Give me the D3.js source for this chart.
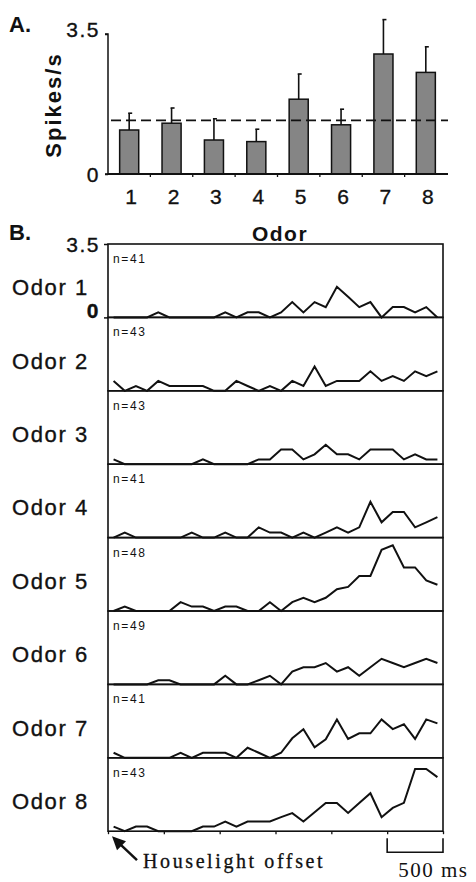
<!DOCTYPE html>
<html><head><meta charset="utf-8">
<script src="https://cdn.jsdelivr.net/npm/d3@7"></script>
<style>
html,body{margin:0;padding:0;background:#fff;}
svg{display:block;}
text{font-family:"Liberation Sans",Arial,sans-serif;fill:#111;}
.serif{font-family:"Liberation Serif","Times New Roman",serif;}
.heavy{stroke:#111;stroke-width:0.35px;}
</style></head>
<body>
<svg id="chart" width="476" height="882"></svg>
<script>
// ---------- data ----------
const odors = ["1","2","3","4","5","6","7","8"];
const meanRate = [1.10, 1.27, 0.85, 0.81, 1.87, 1.23, 3.00, 2.54];
const semRate  = [0.42, 0.38, 0.53, 0.31, 0.63, 0.39, 0.86, 0.64];
const baselineRate = 1.34;
const yTicksA = [0, 3.5];

const panelLabels = ["Odor 1","Odor 2","Odor 3","Odor 4","Odor 5","Odor 6","Odor 7","Odor 8"];
const trialCounts = [41, 43, 43, 41, 48, 49, 41, 43];
const timeBins = [50,150,250,350,450,550,650,750,850,950,1050,1150,1250,1350,1450,
                  1550,1650,1750,1850,1950,2050,2150,2250,2350,2450,2550,2650,2750,2850,2950];
const timeTicks = [0,500,1000,1500,2000,2500,3000];
const yTicksB = [0, 3.5];
const psth1 = [0,0,0,0,0.24,0,0,0,0,0,0.24,0,0.24,0.24,0,0.24,0.73,0.24,0.73,0.49,1.46,0.98,0.49,0.73,0,0.49,0.49,0.24,0.49,0];
const psth2 = [0.47,0,0.23,0,0.47,0.23,0.23,0.23,0.23,0,0,0.47,0.23,0,0.23,0,0.47,0.23,1.16,0.23,0.47,0.47,0.47,0.93,0.47,0.70,0.47,0.93,0.70,0.93];
const psth3 = [0.23,0,0,0,0,0,0,0,0.23,0,0,0,0,0.23,0.23,0.70,0.70,0.23,0.47,0.93,0.47,0.47,0.23,0.70,0.70,0.70,0.23,0.47,0.23,0.23];
const psth4 = [0,0.24,0,0,0,0,0,0.24,0,0,0.24,0,0,0.49,0.24,0.24,0,0.24,0,0.24,0.49,0.24,0.49,1.71,0.73,1.22,1.22,0.49,0.73,0.98];
const psth5 = [0,0.21,0,0,0,0,0.42,0.21,0.21,0,0.21,0.21,0,0,0.42,0,0.42,0.63,0.42,0.63,1.04,1.15,1.67,1.67,2.92,3.13,2.08,2.08,1.46,1.25];
const psth6 = [0,0,0,0,0.20,0.20,0,0,0,0,0.41,0,0,0.20,0.41,0,0.61,0.82,0.82,1.02,0.61,0.82,0.41,0.82,1.22,1.02,0.82,1.02,1.22,1.02];
const psth7 = [0.24,0,0,0,0,0,0.24,0,0.24,0.24,0.24,0,0.48,0.24,0,0.24,0.93,1.36,0.50,0.88,1.83,0.90,1.17,1.17,1.83,1.37,1.60,0.90,1.83,1.64];
const psth8 = [0.22,0,0.22,0.22,0,0,0,0,0.22,0.22,0.46,0.22,0.46,0.46,0.46,0.67,0.86,0.46,0.90,1.35,1.35,0.87,1.35,1.81,0.67,1.11,1.35,2.97,2.97,2.58];
const psths = [psth1, psth2, psth3, psth4, psth5, psth6, psth7, psth8];
const scaleBarMs = 500;

// ---------- drawing ----------
const svg = d3.select("#chart");
svg.append("rect").attr("width",476).attr("height",882).attr("fill","#fff");

// ===== Panel A =====
const A = {left:108, right:447, top:34, bottom:174};
const xA = d3.scaleBand().domain(odors).range([A.left, A.right]).paddingInner(0.55).paddingOuter(0.275);
const yA = d3.scaleLinear().domain([0, 3.5]).range([A.bottom, A.top]);
const gA = svg.append("g");

// error bars
odors.forEach((o,i)=>{
  const cx = xA(o) + xA.bandwidth()/2;
  gA.append("line").attr("x1",cx).attr("x2",cx)
    .attr("y1",yA(meanRate[i])).attr("y2",yA(meanRate[i]+semRate[i]))
    .attr("stroke","#111").attr("stroke-width",1.6);
  gA.append("line").attr("x1",cx-1).attr("x2",cx+3)
    .attr("y1",yA(meanRate[i]+semRate[i])).attr("y2",yA(meanRate[i]+semRate[i]))
    .attr("stroke","#111").attr("stroke-width",1.6);
});
// bars
gA.selectAll("rect.bar").data(odors).enter().append("rect")
  .attr("x",d=>xA(d)).attr("width",xA.bandwidth())
  .attr("y",(d,i)=>yA(meanRate[i])).attr("height",(d,i)=>A.bottom-yA(meanRate[i]))
  .attr("fill","#858585").attr("stroke","#111").attr("stroke-width",1.5);
// dashed baseline
gA.append("line").attr("x1",A.left+3).attr("x2",A.right+1)
  .attr("y1",yA(baselineRate)).attr("y2",yA(baselineRate))
  .attr("stroke","#111").attr("stroke-width",1.8).attr("stroke-dasharray","10,5");

// y axis
const yAxisA = d3.axisLeft(yA).tickValues(yTicksA).tickSize(3).tickFormat(d3.format(""));
const gyA = gA.append("g").attr("transform",`translate(${A.left},0)`).call(yAxisA);
gyA.select(".domain").attr("stroke","#111").attr("stroke-width",1.5).attr("d",`M-3,${A.top}H0V${A.bottom}H-3`);
gyA.selectAll(".tick line").attr("stroke","#111").attr("stroke-width",1.5);
gyA.selectAll(".tick text").attr("font-size",21).attr("fill","#111").attr("class","heavy")
  .attr("font-family","Liberation Sans, Arial, sans-serif").attr("x",-8)
  .attr("dy",(d)=> d===0 ? "0.35em" : "0.1em").attr("letter-spacing",1.5);

// x axis
const gxA = gA.append("g").attr("transform",`translate(0,${A.bottom})`);
gxA.append("line").attr("x1",A.left).attr("x2",A.right+1).attr("y1",0).attr("y2",0)
  .attr("stroke","#111").attr("stroke-width",1.8);
odors.forEach((o,i)=>{
  const bx = xA(o) - xA.step()*xA.paddingInner()/2;
  if(i>0) gxA.append("line").attr("x1",bx).attr("x2",bx).attr("y1",0).attr("y2",3).attr("stroke","#111").attr("stroke-width",1.3);
});
gxA.selectAll("text.xl").data(odors).enter().append("text").attr("class","heavy")
  .attr("x",d=>xA(d)+xA.bandwidth()/2+2).attr("y",30)
  .attr("text-anchor","middle").attr("font-size",21).text(d=>d);

svg.append("text").attr("x",280).attr("y",241).attr("text-anchor","middle")
  .attr("font-size",21).attr("font-weight","bold").attr("letter-spacing",1.5).text("Odor");
svg.append("text").attr("transform","translate(61,105) rotate(-90)").attr("text-anchor","middle")
  .attr("font-size",22).attr("font-weight","bold").attr("letter-spacing",2).text("Spikes/s");
svg.append("text").attr("x",9).attr("y",32).attr("font-size",22).attr("font-weight","bold").text("A.");

// ===== Panel B =====
const B = {left:108, right:443, top:244, panelH:73.4};
const xB = d3.scaleLinear().domain([0,3000]).range([B.left, B.right]);
svg.append("text").attr("x",9).attr("y",240).attr("font-size",22).attr("font-weight","bold").text("B.");

psths.forEach((vals,k)=>{
  const top = B.top + k*B.panelH, bot = top + B.panelH;
  const yB = d3.scaleLinear().domain([0,3.5]).range([bot, top]);
  const g = svg.append("g");
  const line = d3.line().x((d,i)=>xB(timeBins[i])).y(d=>yB(d));
  g.append("path").datum(vals).attr("d",line).attr("fill","none")
    .attr("stroke","#111").attr("stroke-width",2).attr("stroke-linejoin","miter");
  g.append("rect").attr("x",B.left).attr("y",top).attr("width",B.right-B.left).attr("height",B.panelH)
    .attr("fill","none").attr("stroke","#111").attr("stroke-width",1.6);
  g.append("text").attr("x",B.left+5).attr("y",top+19).attr("font-size",12)
    .attr("letter-spacing",1.6).attr("fill","#333").text("n=" + trialCounts[k]);
  svg.append("text").attr("class","heavy").attr("x",12).attr("y",(top+bot)/2+14.5).attr("font-size",22)
    .attr("letter-spacing",1.6).text(panelLabels[k]);
  if(k===0){
    const yAxisB = d3.axisLeft(yB).tickValues(yTicksB).tickSize(4).tickFormat(d3.format(""));
    const gy = g.append("g").attr("transform",`translate(${B.left},0)`).call(yAxisB);
    gy.select(".domain").remove();
    gy.selectAll(".tick line").attr("stroke","#111").attr("stroke-width",1.5);
    gy.selectAll(".tick text").attr("font-size",21).attr("fill","#111").attr("x",-8).attr("class","heavy")
      .attr("font-family","Liberation Sans, Arial, sans-serif").attr("letter-spacing",1.5)
      .attr("font-weight",d=>d===0?"bold":"normal")
      .attr("dy",d=> d===0 ? "0" : "0.35em");
  }
  if(k===psths.length-1){
    const xAxisB = d3.axisBottom(xB).tickValues(timeTicks).tickSize(3).tickFormat("");
    const gx = g.append("g").attr("transform",`translate(0,${bot})`).call(xAxisB);
    gx.select(".domain").remove();
    gx.selectAll(".tick line").attr("stroke","#111").attr("stroke-width",1.3);
    // scale bar
    const x0 = xB(3000 - scaleBarMs), x1 = xB(3000);
    g.append("path").attr("d",`M${x0},${bot+7}V${bot+21}H${x1}V${bot+7}`)
      .attr("fill","none").attr("stroke","#111").attr("stroke-width",1.6);
    g.append("text").attr("class","serif").attr("x",x0+11).attr("y",bot+46)
      .attr("font-size",21).attr("letter-spacing",1.5).text(scaleBarMs + " ms");
    // arrow
    g.append("line").attr("x1",137).attr("y1",bot+29).attr("x2",119).attr("y2",bot+12)
      .attr("stroke","#111").attr("stroke-width",2.5);
    g.append("path").attr("d",`M${112},${bot+5} L${126},${bot+10} L${117},${bot+19} Z`).attr("fill","#111");
    g.append("text").attr("class","serif").attr("x",143).attr("y",bot+37)
      .attr("font-size",20).attr("letter-spacing",2.6).attr("stroke","#111").attr("stroke-width",0.3)
      .text("Houselight offset");
  }
});
</script>
</body></html>
